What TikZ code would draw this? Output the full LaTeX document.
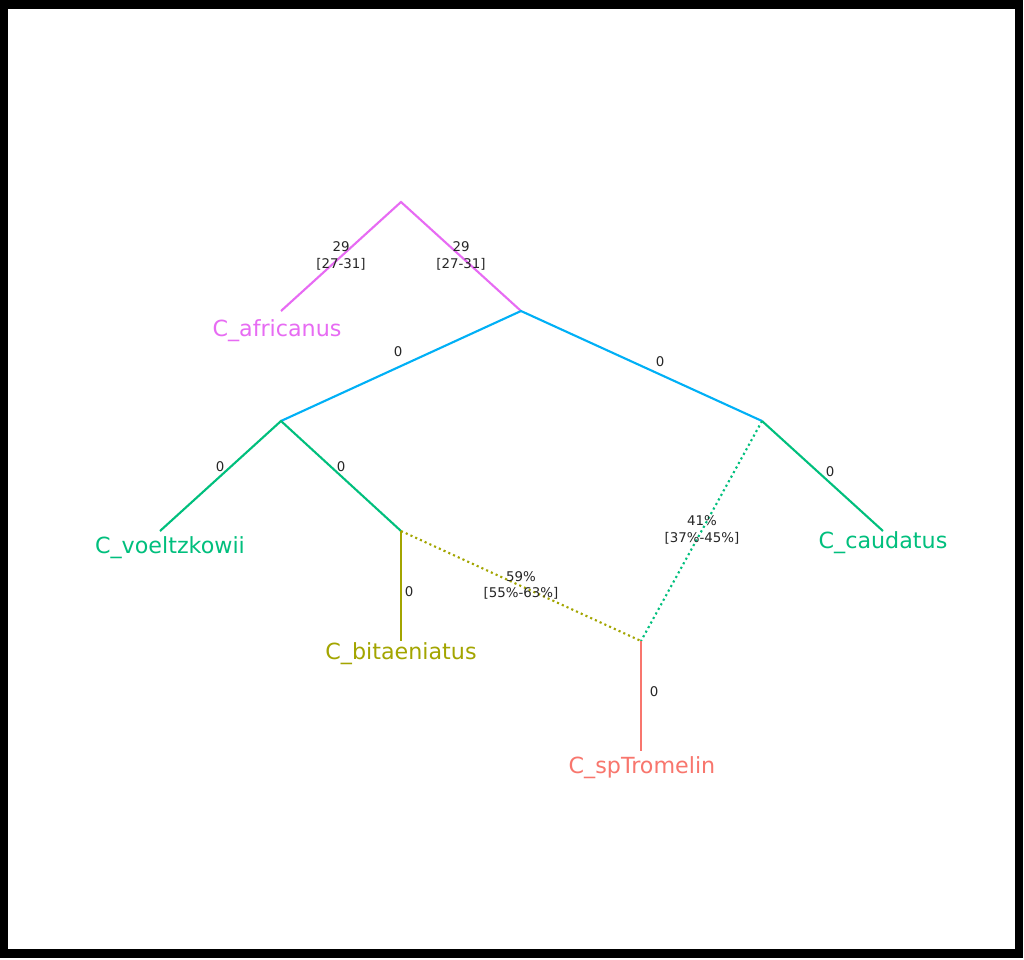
\documentclass[tikz,border=0pt]{standalone}
\usepackage{fontspec}
\setmainfont{DejaVu Sans}
\usetikzlibrary{positioning}
\definecolor{hueRed}{HTML}{F8766D}
\definecolor{hueOlive}{HTML}{A3A500}
\definecolor{hueGreen}{HTML}{00BF7D}
\definecolor{hueBlue}{HTML}{00B0F6}
\definecolor{hueMagenta}{HTML}{E76BF3}
\tikzset{
  taxon/.style={anchor=base, inner sep=0pt, font=\fontsize{15.8}{18}\selectfont},
  brlen/.style={inner sep=0pt, align=center, text=black!85, font=\fontsize{9.5}{11.5}\selectfont},
  hybrid/.style={dash pattern=on 1.5pt off 2.2pt}
}
\begin{document}
\begin{tikzpicture}[x=0.025cm, y=-0.025cm, line width=1.5pt]

    % frame
    \fill[black] (0,0) rectangle (1023,958);
    \fill[white] (8,9) rectangle (1015,949);
    \useasboundingbox (0,0) rectangle (1024,959);

    % tree nodes
    \coordinate (root) at (401,202);
    \coordinate (afr) at (281,311);
    \coordinate (nA) at (521,311);
    \coordinate (nB) at (281,421);
    \coordinate (nC) at (762,421);
    \coordinate (voe) at (160,531);
    \coordinate (nD) at (401,531);
    \coordinate (cau) at (883,531);
    \coordinate (bit) at (401,641);
    \coordinate (nH) at (641,641);
    \coordinate (spT) at (641,751);

    \draw[hueMagenta] (afr) -- (root) -- (nA);
    \draw[hueBlue] (nB) -- (nA) -- (nC);
    \draw[hueGreen] (voe) -- (nB) -- (nD);
    \draw[hueGreen] (nC) -- (cau);
    \draw[hueOlive] (nD) -- (bit);
    \draw[hueOlive, hybrid] (nD) -- (nH);
    \draw[hueGreen, hybrid] (nC) -- (nH);
    \draw[hueRed] (nH) -- (spT);

    % tip labels
    \node[taxon, text=hueMagenta] (lafr) at (277,336) {C\_africanus};
    \node[taxon, text=hueGreen] (lvoe) at (170,553) {C\_voeltzkowii};
    \node[taxon, text=hueOlive] (lbit) at (401,659) {C\_bitaeniatus};
    \node[taxon, text=hueGreen] (lcau) at (883,548) {C\_caudatus};
    \node[taxon, text=hueRed] (lspT) at (642,773) {C\_spTromelin};

    % branch labels
    \node[brlen] (e1) at (341,256) {29\\{}[27-31]};
    \node[brlen] (e2) at (461,256) {29\\{}[27-31]};
    \node[brlen] (e3) at (398,352) {0};
    \node[brlen] (e4) at (660,362) {0};
    \node[brlen] (e5) at (220,467) {0};
    \node[brlen] (e6) at (341,467) {0};
    \node[brlen] (e7) at (830,472) {0};
    \node[brlen] (e8) at (409,592) {0};
    \node[brlen] (e9) at (654,692) {0};
    \node[brlen] (e10) at (521,585) {59\%\\{}[55\%-63\%]};
    \node[brlen] (e11) at (702,530) {41\%\\{}[37\%-45\%]};

\end{tikzpicture}
\end{document}
